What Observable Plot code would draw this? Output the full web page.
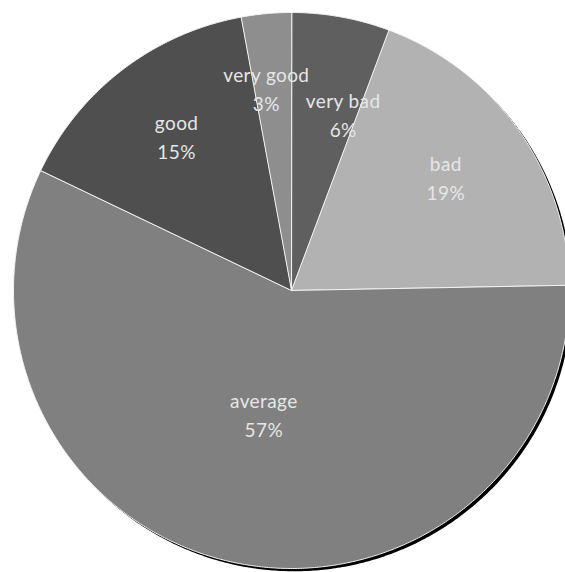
<!DOCTYPE html>
<html><head><meta charset="utf-8">
<script src="https://cdn.jsdelivr.net/npm/d3@7"></script>
<script src="https://cdn.jsdelivr.net/npm/@observablehq/plot@0.6"></script>
<style>html,body{margin:0;padding:0;background:#fff;overflow:hidden}</style>
</head><body><div id="chart"></div>
<script>
const categories = ["very bad", "bad", "average", "good", "very good"];
const values = [5.7, 19.0, 57.4, 15.0, 2.9];
const colors = ["#5f5f5f", "#b2b2b2", "#808080", "#4f4f4f", "#8e8e8e"];

const total = d3.sum(values);
let acc = 0;
const slices = categories.map((c, i) => {
  const a0 = acc / total * 2 * Math.PI;
  acc += values[i];
  const a1 = acc / total * 2 * Math.PI;
  return {category: c, value: values[i], share: values[i] / total, a0, a1};
});

function arcRing(a0, a1) {
  const n = Math.max(2, Math.ceil((a1 - a0) / (Math.PI / 360)));
  const pts = [[0, 0]];
  for (let k = 0; k <= n; k++) {
    const a = a0 + (a1 - a0) * k / n;
    pts.push([Math.sin(a), Math.cos(a)]);
  }
  pts.push([0, 0]);
  return pts;
}
function circleRing(cx, cy) {
  const n = 720, pts = [];
  for (let k = 0; k <= n; k++) {
    const a = 2 * Math.PI * k / n;
    pts.push([cx + Math.sin(a), cy + Math.cos(a)]);
  }
  return pts;
}

const features = slices.map(s => ({
  type: "Feature",
  properties: s,
  geometry: {type: "Polygon", coordinates: [arcRing(s.a0, s.a1)]}
}));
const shadow = [{type: "Feature", properties: {}, geometry: {type: "Polygon", coordinates: [circleRing(0.01, -0.01)]}}];
const domain = {type: "Polygon", coordinates: [[[-1, -1], [1, -1], [1, 1], [-1, 1], [-1, -1]]]};

const labelRadius = s => s.share > 0.5 ? 0.47 : 0.68;
const mid = s => (s.a0 + s.a1) / 2;
const lx = s => labelRadius(s) * Math.sin(mid(s));
const ly = s => labelRadius(s) * Math.cos(mid(s));
const labelText = s => `${s.category}\n${Math.round(s.share * 100)}%`;
const textStyle = {fill: "#e6e6e6", fontSize: 19, fontFamily: "Lato", lineHeight: 1.5};

const big = slices.filter(s => s.share >= 0.1);
const smallRight = slices.filter(s => s.share < 0.1 && Math.sin(mid(s)) > 0);
const smallLeft = slices.filter(s => s.share < 0.1 && Math.sin(mid(s)) <= 0);

const chart = Plot.plot({
  width: 565,
  height: 572,
  margin: 0,
  style: {letterSpacing: "0.4px", background: "#fff"},
  projection: {type: "reflect-y", domain, insetLeft: 13, insetRight: -4, insetTop: 11.5, insetBottom: 3.5},
  color: {domain: categories, range: colors},
  marks: [
    Plot.geo(shadow, {fill: "#000", imageFilter: "blur(0.6px)"}),
    Plot.geo(features, {fill: d => d.properties.category, stroke: "#f2f2f2", strokeWidth: 1, strokeLinejoin: "round"}),
    Plot.text(big, {x: lx, y: ly, text: labelText, dy: -5, ...textStyle}),
    Plot.text(smallRight, {x: lx, y: ly, text: labelText, dx: 18, dy: 9, ...textStyle}),
    Plot.text(smallLeft, {x: lx, y: ly, text: labelText, dx: -8, dy: -15, ...textStyle})
  ]
});
document.getElementById("chart").appendChild(chart);
</script>
</body></html>
